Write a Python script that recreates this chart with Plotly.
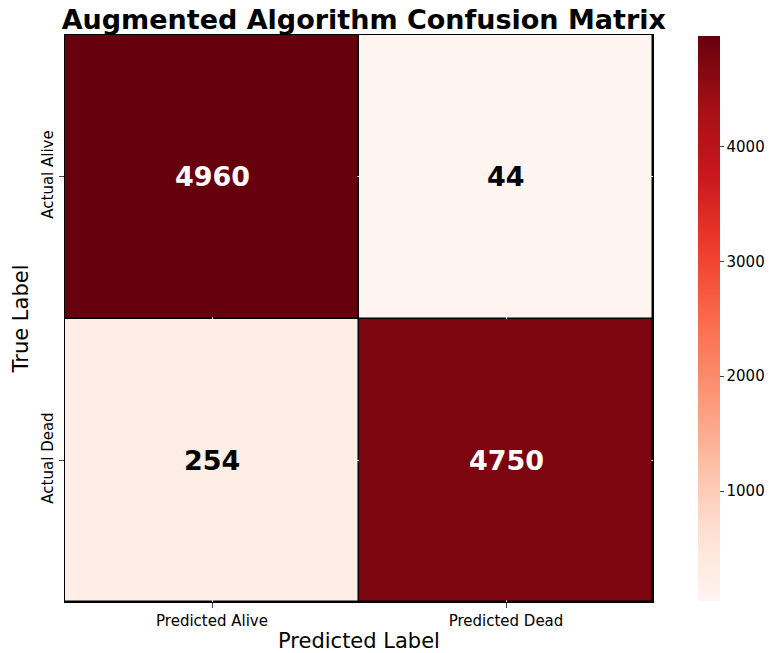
import plotly.graph_objects as go

cols = ["Predicted Alive", "Predicted Dead"]
rows = ["Actual Alive", "Actual Dead"]
z = [[4960, 44], [254, 4750]]

reds = [[0.0, "#fff5f0"], [0.125, "#fee0d2"], [0.25, "#fcbba1"], [0.375, "#fc9272"],
        [0.5, "#fb6a4a"], [0.625, "#ef3b2c"], [0.75, "#cb181d"], [0.875, "#a50f15"], [1.0, "#67000d"]]
zmin, zmax = min(min(r) for r in z), max(max(r) for r in z)
textcol = [["white" if v > (zmin + zmax) / 2 else "black" for v in r] for r in z]

fig = go.Figure()
fig.add_trace(go.Heatmap(
    z=z, x=cols, y=rows, colorscale=reds, zmin=zmin, zmax=zmax,
    xgap=1.5, ygap=1.5, showscale=True,
    colorbar=dict(x=1.06, xanchor="left", len=565, lenmode="pixels", ypad=0, y=0.5, thickness=22,
                  tickvals=[1000, 2000, 3000, 4000], ticks="outside", ticklen=4,
                  outlinewidth=0, tickfont=dict(size=15, color="black")),
    hoverinfo="skip"))
for i, r in enumerate(rows):
    for j, c in enumerate(cols):
        fig.add_annotation(x=c, y=r, text="<b>%d</b>" % z[i][j], showarrow=False,
                           font=dict(size=27, color=textcol[i][j], family="DejaVu Sans"))
fig.update_layout(
    width=782, height=653, paper_bgcolor="white", plot_bgcolor="black",
    font=dict(family="DejaVu Sans", color="black"),
    margin=dict(l=52, r=137, t=27, b=51, pad=0),
    title=dict(text="<b>Augmented Algorithm Confusion Matrix</b>", x=0.455, xanchor="center",
               y=0.997, yanchor="top", font=dict(size=27)),
)
fig.update_xaxes(title=dict(text="Predicted Label", font=dict(size=21), standoff=4),
                 ticks="outside", ticklen=5, tickfont=dict(size=15),
                 showline=True, linecolor="black", mirror=True, linewidth=1)
fig.update_yaxes(title=dict(text="True Label", font=dict(size=21), standoff=4),
                 autorange="reversed", ticks="outside", ticklen=5, tickfont=dict(size=15),
                 tickangle=-90, showline=True, linecolor="black", mirror=True, linewidth=1)
fig.write_html("out.html")
